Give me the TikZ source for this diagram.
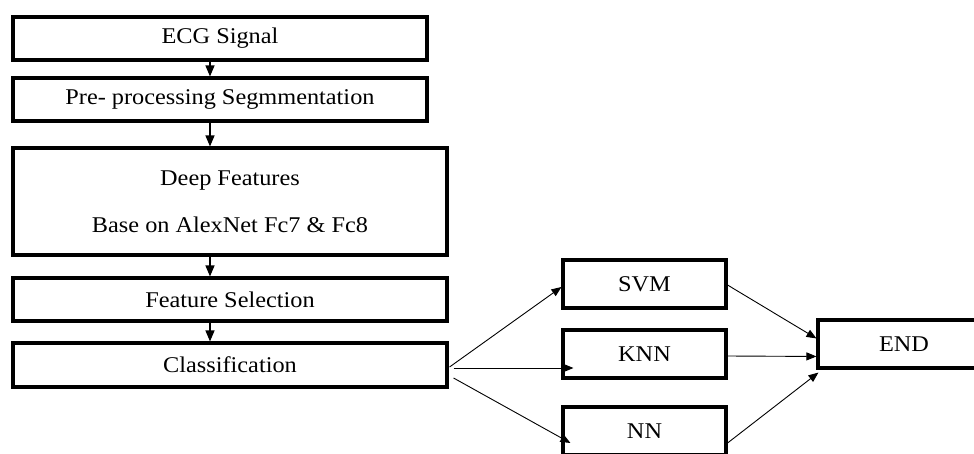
\documentclass[tikz,border=0pt]{standalone}
\usepackage{fontspec}
\setmainfont{Liberation Serif}[FakeStretch=1.08]
\usetikzlibrary{arrows.meta,calc}
\begin{document}
\begin{tikzpicture}[x=1pt,y=-1pt,
  box/.style={draw,line width=3.1pt,inner sep=0pt,font=\fontsize{22.5}{26}\selectfont,align=center},
  arr/.style={line width=1.2pt,-{Triangle[length=11pt,width=9pt]}},
  thinarr/.style={line width=0.9pt,-{Triangle[length=10pt,width=8pt]}}]
\useasboundingbox (0,0) rectangle (974,453);
\fill[white] (0,0) rectangle (974,453);
\clip (0,0) rectangle (974,453);
% left column
\node[box,minimum width=414pt,minimum height=43pt] (ecg) at (220,38.5) {ECG Signal};
\node[box,minimum width=414pt,minimum height=43pt] (pre) at (220,99.5) {Pre- processing Segmmentation};
\node[box,minimum width=434pt,minimum height=107pt] (deep) at (230,201.5) {Deep Features\\[21pt]Base on AlexNet Fc7 \& Fc8};
\node[box,minimum width=434pt,minimum height=43pt] (fsel) at (230,299.5) {Feature Selection};
\node[box,minimum width=434pt,minimum height=44pt] (cls) at (230,365) {Classification};
% classifiers
\node[box,minimum width=163pt,minimum height=48pt] (svm) at (644.5,284) {SVM};
\node[box,minimum width=163pt,minimum height=48pt] (knn) at (644.5,354) {KNN};
\node[box,minimum width=163pt,minimum height=48pt] (nn) at (644.5,431) {NN};
\node[box,minimum width=180pt,minimum height=48pt] (end) at (908,344) {END\hspace*{8pt}};
% vertical arrows
\draw[arr] (ecg.south -| 210,0) -- (pre.north -| 210,0);
\draw[arr] (pre.south -| 210,0) -- (deep.north -| 210,0);
\draw[arr] (deep.south -| 210,0) -- (fsel.north -| 210,0);
\draw[arr] (fsel.south -| 210,0) -- (cls.north -| 210,0);
% classification to classifiers
\draw[thinarr] ($(cls.east)+(1,2)$) -- ($(svm.west)+(0,3)$);
\draw[thinarr] ($(cls.east)+(5,3)$) -- ($(knn.west)+(12,14)$);
\draw[thinarr] ($(cls.east)+(5,13)$) -- ($(nn.west)+(9,12)$);
% classifiers to end
\draw[thinarr] ($(svm.east)+(0,1)$) -- ($(end.north west)+(0,20)$);
\draw[thinarr] ($(knn.east)+(0,2)$) -- ($(end.north west)+(0,38)$);
\draw[thinarr] ($(nn.east)+(0,12)$) -- ($(end.south west)+(2,3)$);
\end{tikzpicture}
\end{document}
